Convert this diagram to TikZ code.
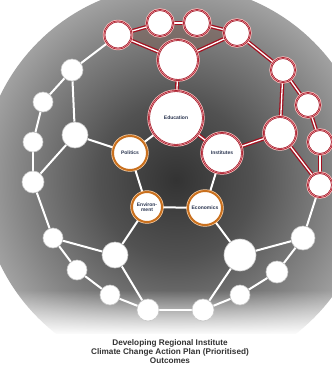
\documentclass[tikz,border=0pt]{standalone}
\usepackage{fontspec}
\setmainfont{Liberation Sans}
\usetikzlibrary{fadings}
\pgfdeclarelayer{bg}
\pgfdeclarelayer{edges}
\pgfsetlayers{bg,edges,main}
\definecolor{rdark}{HTML}{A3101F}
\definecolor{rpink}{HTML}{E8A0A8}
\definecolor{oring}{HTML}{C9701E}
\definecolor{navy}{HTML}{2A3550}
\definecolor{wgray}{HTML}{C8C8C8}
\definecolor{poly}{HTML}{7A5A50}
\pgfdeclareradialshading{bgshade}{\pgfpoint{0bp}{0bp}}{color(0bp)=(black!80); color(10bp)=(black!68); color(20bp)=(black!48); color(28bp)=(black!30); color(35bp)=(black!16); color(41bp)=(black!6); color(46bp)=(white); color(50bp)=(white)}
\tikzset{
  wnode/.style={circle, fill=white, draw=wgray, line width=0.6pt, inner sep=0pt},
  rnode/.style={circle, fill=white, draw=rdark, line width=1.8pt, inner sep=0pt,
     preaction={draw=red!25, line width=3.4pt},
     postaction={draw=rpink, line width=0.5pt}},
  onode/.style={circle, fill=white, draw=oring, line width=2pt, inner sep=0pt,
     preaction={draw=orange!35, line width=3.4pt},
     font=\fontsize{5}{5.5}\selectfont\bfseries, text=navy, align=center},
  lbl/.style={font=\fontsize{5}{5.5}\selectfont\bfseries, text=navy, align=center},
  wedge/.style={draw=white, line width=2pt},
  redge/.style={draw=rdark, line width=1.3pt, double=white, double distance=1.3pt},
}
\begin{document}
\begin{tikzpicture}[x=1pt,y=-1pt]
\useasboundingbox (0,0) rectangle (332,365);
\begin{pgfonlayer}{bg}
\fill[white] (0,0) rectangle (332,365);
\shade[shading=bgshade] (176,180) circle (195);
\fill[white, path fading=north] (0,290) rectangle (332,335);
\fill[white] (0,334) rectangle (332,365);
\end{pgfonlayer}
% red nodes
\node[rnode, minimum size=27pt] (t1) at (118,35) {};
\node[rnode, minimum size=26pt] (t2) at (160,23) {};
\node[rnode, minimum size=26pt] (t3) at (197,23) {};
\node[rnode, minimum size=26pt] (t4) at (237,33) {};
\node[rnode, minimum size=40pt] (big) at (178,60) {};
\node[rnode, minimum size=54pt, lbl] (edu) at (176,118) {Education};
\node[rnode, minimum size=40pt, lbl] (inst) at (222,153) {Institutes};
\node[rnode, minimum size=24pt] (r1) at (283,70) {};
\node[rnode, minimum size=24pt] (r2) at (308,105) {};
\node[rnode, minimum size=32pt] (r3) at (280,133) {};
\node[rnode, minimum size=24pt] (r4) at (320,142) {};
\node[rnode, minimum size=24pt] (r5) at (320,185) {};
% orange nodes
\node[onode, minimum size=34pt] (pol) at (130,153) {Politics};
\node[onode, minimum size=30pt] (env) at (147,207) {Environ-\\ment};
\node[onode, minimum size=34pt] (eco) at (205,208) {Economics};
% white nodes
\node[wnode, minimum size=22pt] (w1) at (72,70) {};
\node[wnode, minimum size=20pt] (w2) at (43,102) {};
\node[wnode, minimum size=26pt] (w3) at (75,135) {};
\node[wnode, minimum size=20pt] (w4) at (33,142) {};
\node[wnode, minimum size=22pt] (w5) at (33,182) {};
\node[wnode, minimum size=20pt] (w6) at (53,238) {};
\node[wnode, minimum size=26pt] (w7) at (115,255) {};
\node[wnode, minimum size=20pt] (w8) at (77,270) {};
\node[wnode, minimum size=20pt] (w9) at (110,295) {};
\node[wnode, minimum size=22pt] (w10) at (148,310) {};
\node[wnode, minimum size=22pt] (w11) at (203,310) {};
\node[wnode, minimum size=20pt] (w12) at (240,295) {};
\node[wnode, minimum size=32pt] (w13) at (240,255) {};
\node[wnode, minimum size=22pt] (w14) at (277,272) {};
\node[wnode, minimum size=24pt] (w15) at (303,238) {};
% title
\node[font=\fontsize{8.2}{8.9}\selectfont\bfseries, text=black!80, align=center, anchor=south, inner sep=0pt] (title) at (170,364)
  {Developing Regional Institute\\Climate Change Action Plan (Prioritised)\\Outcomes};
\begin{pgfonlayer}{edges}
\fill[fill=poly, opacity=0.45] (t1.center) -- (t2.center) -- (t3.center) -- (t4.center) -- (big.center) -- cycle;
\foreach \a/\b in {t1/t2, t2/t3, t3/t4, t1/big, t4/big, big/edu, t4/r1, r1/r2, r2/r4, r4/r5, r1/r3, r3/r5, r3/inst, edu/inst}
  \draw[redge] (\a) -- (\b);
\foreach \a/\b in {t1/w1, w1/w2, w2/w4, w4/w5, w1/w3, w3/w5, w3/pol, pol/edu, pol/env, env/eco, eco/inst,
  env/w7, eco/w13, w5/w6, w6/w7, w6/w8, w8/w9, w9/w10, w7/w10, w10/w11, w11/w12, w11/w13, w12/w14, w14/w15, w13/w15, w15/r5}
  \draw[wedge] (\a) -- (\b);
\end{pgfonlayer}
\end{tikzpicture}
\end{document}
